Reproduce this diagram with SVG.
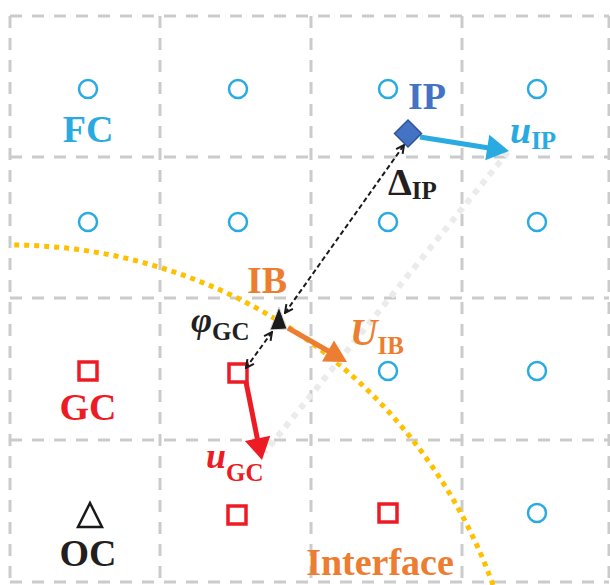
<svg xmlns="http://www.w3.org/2000/svg" width="610" height="585" viewBox="0 0 610 585">
<defs>
<style>
.grid{stroke:#cbcbcb;stroke-width:3;stroke-dasharray:12 10;fill:none}
.fc{fill:none;stroke:#29abe2;stroke-width:2.5}
.gc{fill:none;stroke:#ed1c24;stroke-width:3.5}
.lbl{font-family:"Liberation Serif","Times New Roman",serif;font-weight:bold}
.it{font-style:italic}
.dash{stroke:#1a1a1a;stroke-width:2;stroke-dasharray:5 3;fill:none}
</style>
<marker id="oa" viewBox="0 0 10 10" refX="9" refY="5" markerWidth="10" markerHeight="10" markerUnits="userSpaceOnUse" orient="auto-start-reverse">
<path d="M1,1 L9,5 L1,9" fill="none" stroke="#1a1a1a" stroke-width="2"/>
</marker>
</defs>
<rect width="610" height="585" fill="#ffffff"/>
<g id="grid">
<path class="grid" d="M10,16V582M160,16V582M311,16V582M462,16V582M609,16V582"/>
<path class="grid" d="M10,16H609M10,157H609M10,298H609M10,440H609M10,582H609"/>
</g>
<g id="interface-curve">
<path d="M493,585 A513,513 0 0 0 10,245" fill="none" stroke="#ffc000" stroke-width="5" stroke-dasharray="5 5"/>
<path d="M508,152 L265,452" fill="none" stroke="#ebebeb" stroke-width="6" stroke-dasharray="6 6"/>
</g>
<g id="fc-nodes">
<circle class="fc" cx="88" cy="89" r="9"/>
<circle class="fc" cx="238" cy="89" r="9"/>
<circle class="fc" cx="388" cy="89" r="9"/>
<circle class="fc" cx="537" cy="89" r="9"/>
<circle class="fc" cx="88" cy="222" r="9"/>
<circle class="fc" cx="238" cy="222" r="9"/>
<circle class="fc" cx="388" cy="222" r="9"/>
<circle class="fc" cx="537" cy="222" r="9"/>
<circle class="fc" cx="388" cy="371" r="9"/>
<circle class="fc" cx="537" cy="371" r="9"/>
<circle class="fc" cx="537" cy="513" r="9"/>
</g>
<g id="gc-nodes">
<rect class="gc" x="79" y="362" width="18" height="18"/>
<rect class="gc" x="229" y="364" width="18" height="18"/>
<rect class="gc" x="228" y="506" width="18" height="18"/>
<rect class="gc" x="379" y="504" width="18" height="18"/>
</g>
<g id="oc-node">
<path d="M90,503 L102,527 L78,527 Z" fill="none" stroke="#1a1a1a" stroke-width="2.5"/>
</g>
<g id="connectors">
<line class="dash" x1="285" y1="313" x2="404" y2="145" marker-start="url(#oa)" marker-end="url(#oa)"/>
<line class="dash" x1="272" y1="332" x2="246" y2="368" marker-start="url(#oa)" marker-end="url(#oa)"/>
<g id="u-ip">
<line x1="420" y1="137" x2="489" y2="148" stroke="#29abe2" stroke-width="5"/>
<path d="M509,151 L485.3,160.3 L489.3,134.7 Z" fill="#29abe2"/>
</g>
<g id="u-ib">
<line x1="288" y1="328" x2="330" y2="352" stroke="#ed7d31" stroke-width="5"/>
<path d="M347,362 L322,361.4 L334,340.6 Z" fill="#ed7d31"/>
</g>
<g id="u-gc">
<line x1="246" y1="382" x2="257.6" y2="440" stroke="#ed1c24" stroke-width="5"/>
<path d="M262,460 L244.9,441 L270.3,435.8 Z" fill="#ed1c24"/>
</g>
</g>
<g id="ip-node">
<path d="M408,120 L421.5,133.5 L408,147 L394.5,133.5 Z" fill="#4472c4" stroke="#2f5597" stroke-width="1.5"/>
</g>
<g id="ib-node">
<path d="M279,307 L287,329 L270,330 Z" fill="#1a1a1a" stroke="#d8d8d8" stroke-width="1"/>
</g>
<g id="labels">
<text class="lbl" x="88" y="142" font-size="38" fill="#29abe2" text-anchor="middle">FC</text>
<text class="lbl" x="88" y="420" font-size="38" fill="#ed1c24" text-anchor="middle">GC</text>
<text class="lbl" x="88" y="566" font-size="38" fill="#231f20" text-anchor="middle">OC</text>
<text class="lbl" x="408" y="109" font-size="38" fill="#4472c4">IP</text>
<text class="lbl" x="267" y="293" font-size="38" fill="#ed7d31" text-anchor="middle">IB</text>
<text class="lbl" x="380" y="575" font-size="38" fill="#ed7d31" text-anchor="middle">Interface</text>
<text class="lbl" x="510" y="143" font-size="38" fill="#29abe2"><tspan class="it">u</tspan><tspan font-size="25" dy="6">IP</tspan></text>
<text class="lbl" x="388" y="195" font-size="38" fill="#231f20">Δ<tspan font-size="25" dy="4">IP</tspan></text>
<text class="lbl" x="350" y="345" font-size="38" fill="#ed7d31"><tspan class="it">U</tspan><tspan font-size="25" dy="9">IB</tspan></text>
<text class="lbl" x="191" y="332" font-size="36" fill="#231f20"><tspan class="it">φ</tspan><tspan font-size="25" dy="8">GC</tspan></text>
<text class="lbl" x="206" y="468" font-size="36" fill="#ed1c24"><tspan class="it">u</tspan><tspan font-size="25" dy="13">GC</tspan></text>
</g>
</svg>
